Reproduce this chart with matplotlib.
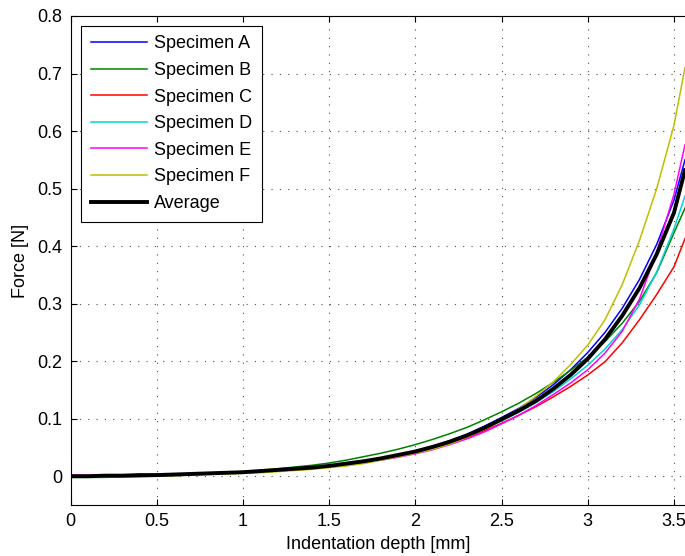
import matplotlib
matplotlib.use("Agg")
import matplotlib.pyplot as plt

plt.rcParams['font.family'] = ['Liberation Sans', 'DejaVu Sans']

depth = [0.0, 0.1, 0.2, 0.3, 0.4, 0.5, 0.6, 0.7, 0.8, 0.9,
         1.0, 1.1, 1.2, 1.3, 1.4, 1.5, 1.6, 1.7, 1.8, 1.9,
         2.0, 2.1, 2.2, 2.3, 2.4, 2.5, 2.6, 2.7, 2.8, 2.9,
         3.0, 3.1, 3.2, 3.3, 3.4, 3.5, 3.564]

spec_a = [0.000, 0.000, 0.000, 0.001, 0.001, 0.001, 0.002, 0.003, 0.004, 0.005,
          0.006, 0.008, 0.010, 0.012, 0.015, 0.018, 0.022, 0.026, 0.031, 0.037,
          0.044, 0.052, 0.062, 0.073, 0.087, 0.102, 0.118, 0.137, 0.159, 0.185,
          0.215, 0.250, 0.292, 0.342, 0.403, 0.480, 0.550]
spec_b = [-0.002, -0.002, -0.002, -0.001, -0.001, 0.000, 0.001, 0.002, 0.004, 0.006,
          0.008, 0.010, 0.013, 0.016, 0.019, 0.023, 0.028, 0.034, 0.040, 0.047,
          0.055, 0.064, 0.074, 0.085, 0.098, 0.112, 0.127, 0.144, 0.163, 0.184,
          0.207, 0.234, 0.266, 0.304, 0.354, 0.423, 0.466]
spec_c = [0.001, 0.001, 0.001, 0.001, 0.002, 0.002, 0.003, 0.004, 0.005, 0.006,
          0.007, 0.008, 0.010, 0.012, 0.014, 0.017, 0.020, 0.025, 0.030, 0.035,
          0.041, 0.048, 0.057, 0.067, 0.079, 0.092, 0.106, 0.121, 0.138, 0.156,
          0.176, 0.199, 0.232, 0.272, 0.316, 0.364, 0.413]
spec_d = [0.000, 0.000, 0.001, 0.001, 0.001, 0.002, 0.003, 0.003, 0.004, 0.005,
          0.007, 0.008, 0.010, 0.012, 0.015, 0.018, 0.021, 0.025, 0.030, 0.036,
          0.043, 0.050, 0.059, 0.069, 0.082, 0.096, 0.111, 0.128, 0.147, 0.169,
          0.193, 0.221, 0.255, 0.298, 0.355, 0.430, 0.487]
spec_e = [0.002, 0.002, 0.002, 0.002, 0.003, 0.003, 0.004, 0.004, 0.005, 0.006,
          0.007, 0.008, 0.010, 0.012, 0.014, 0.016, 0.019, 0.023, 0.028, 0.033,
          0.039, 0.046, 0.055, 0.065, 0.077, 0.091, 0.106, 0.123, 0.142, 0.162,
          0.185, 0.214, 0.252, 0.308, 0.390, 0.490, 0.576]
spec_f = [-0.001, -0.001, -0.001, 0.000, 0.000, 0.001, 0.001, 0.002, 0.003, 0.004,
          0.005, 0.006, 0.008, 0.010, 0.012, 0.015, 0.018, 0.022, 0.028, 0.034,
          0.040, 0.047, 0.056, 0.068, 0.082, 0.098, 0.117, 0.139, 0.164, 0.194,
          0.228, 0.272, 0.333, 0.410, 0.500, 0.610, 0.710]
average = [0.000, 0.000, 0.001, 0.001, 0.002, 0.002, 0.003, 0.004, 0.005, 0.006,
           0.007, 0.009, 0.011, 0.013, 0.015, 0.018, 0.022, 0.026, 0.031, 0.037,
           0.043, 0.051, 0.060, 0.071, 0.084, 0.099, 0.114, 0.131, 0.152, 0.176,
           0.204, 0.238, 0.279, 0.327, 0.386, 0.458, 0.532]

labels = ['Specimen A', 'Specimen B', 'Specimen C', 'Specimen D',
          'Specimen E', 'Specimen F', 'Average']
series = [spec_a, spec_b, spec_c, spec_d, spec_e, spec_f, average]
colors = ['#0000FF', '#008000', '#FF0000', '#00D4D4', '#FF00FF', '#BFBF00', '#000000']
widths = [1.1, 1.1, 1.1, 1.1, 1.1, 1.1, 2.8]

x_ticks = [0, 0.5, 1, 1.5, 2, 2.5, 3, 3.5]
x_tick_labels = ['0', '0.5', '1', '1.5', '2', '2.5', '3', '3.5']
y_ticks = [0, 0.1, 0.2, 0.3, 0.4, 0.5, 0.6, 0.7, 0.8]
y_tick_labels = ['0', '0.1', '0.2', '0.3', '0.4', '0.5', '0.6', '0.7', '0.8']

W, H = 685, 556
fig = plt.figure(figsize=(W / 100, H / 100), dpi=100)
ax = fig.add_axes([70.5 / W, 1 - 505 / H, (W - 70.5) / W, (505 - 16) / H])

for ys, lab, c, lw in zip(series, labels, colors, widths):
    ax.plot(depth, ys, color=c, lw=lw, label=lab, solid_joinstyle='round')

ax.set_xlim(0, 3.564)
ax.set_ylim(-0.05, 0.8)
ax.set_xticks(x_ticks)
ax.set_xticklabels(x_tick_labels)
ax.set_yticks(y_ticks)
ax.set_yticklabels(y_tick_labels)

ax.grid(True, color='0.3', linestyle=(0, (1, 6.5)), linewidth=0.8)
ax.spines['right'].set_visible(False)
for s in ['left', 'bottom', 'top']:
    ax.spines[s].set_linewidth(0.8)
ax.tick_params(direction='in', length=4, width=0.8, labelsize=13, pad=6,
               top=True, right=False)

ax.set_xlabel('Indentation depth [mm]', fontsize=13, labelpad=4)
ax.set_ylabel('Force [N]', fontsize=13, labelpad=6)

leg = ax.legend(loc='upper left', bbox_to_anchor=(10.5 / (W - 70.5), 1 - 9.5 / (505 - 16)),
                borderaxespad=0, fontsize=13, handlelength=3.1, handletextpad=0.4,
                labelspacing=0.53, borderpad=0.55, fancybox=False, framealpha=1,
                edgecolor='black')
leg.get_frame().set_linewidth(0.8)

fig.savefig('out.png', dpi=100)
